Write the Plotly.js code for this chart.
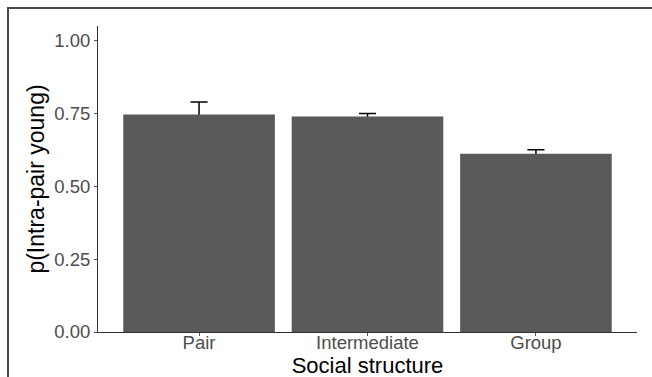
<!DOCTYPE html>
<html>
<head>
<meta charset="utf-8">
<script src="https://cdn.plot.ly/plotly-3.0.1.min.js"></script>
<style>
  html, body { margin: 0; padding: 0; background: #fff; overflow: hidden; }
  #wrap { position: relative; width: 652px; height: 377px; overflow: hidden; }
  #chart { position: absolute; left: 0; top: 0; width: 652px; height: 387px; }
  #frame { position: absolute; left: 7px; top: 7px; width: 700px; height: 400px;
           border-top: 2px solid #4a4a4a; border-left: 2px solid #4a4a4a;
           pointer-events: none; z-index: 5; }
</style>
</head>
<body>
<div id="wrap">
  <div id="chart"></div>
  <div id="frame"></div>
</div>
<script>
const categories = ["Pair", "Intermediate", "Group"];
const values = [0.746, 0.7395, 0.612];
const errors = [0.043, 0.010, 0.013];
const yTicks = [0, 0.25, 0.5, 0.75, 1.0];
const yTickLabels = ["0.00", "0.25", "0.50", "0.75", "1.00"];

const fontFam = '"Liberation Sans", Arial, sans-serif';

const traces = [
  {
    type: 'bar', x: categories, y: values,
    marker: { color: 'rgba(0,0,0,0)' },
    error_y: { type: 'data', array: errors, symmetric: true, color: '#000', thickness: 1.5, width: 8.5 },
    hoverinfo: 'skip', showlegend: false
  },
  {
    type: 'bar', x: categories, y: values,
    marker: { color: '#595959', line: { width: 0 } },
    showlegend: false
  }
];

const layout = {
  width: 652, height: 387,
  margin: { l: 98, r: 15, t: 26, b: 55 },
  paper_bgcolor: 'rgba(0,0,0,0)', plot_bgcolor: '#fff',
  barmode: 'overlay', bargap: 0.1,
  font: { family: fontFam },
  xaxis: {
    type: 'category', range: [-0.6, 2.6],
    showline: true, linecolor: '#333', linewidth: 1,
    ticks: 'outside', ticklen: 3, tickcolor: '#555', tickwidth: 1,
    ticklabelstandoff: -9,
    tickfont: { size: 18.5, color: '#4d4d4d', family: fontFam },
    showgrid: false, zeroline: false, automargin: false,
    title: { text: 'Social structure', font: { size: 22, color: '#000', family: fontFam }, standoff: 4 }
  },
  yaxis: {
    range: [0, 1.05],
    tickvals: yTicks, ticktext: yTickLabels,
    showline: true, linecolor: '#333', linewidth: 1,
    ticks: 'outside', ticklen: 3, tickcolor: '#555', tickwidth: 1,
    tickfont: { size: 18.5, color: '#4d4d4d', family: fontFam },
    showgrid: false, zeroline: false,
    title: { text: 'p(Intra-pair young)', font: { size: 23, color: '#000', family: fontFam }, standoff: 3 }
  }
};

Plotly.newPlot('chart', traces, layout, { displayModeBar: false, staticPlot: true });
</script>
</body>
</html>
